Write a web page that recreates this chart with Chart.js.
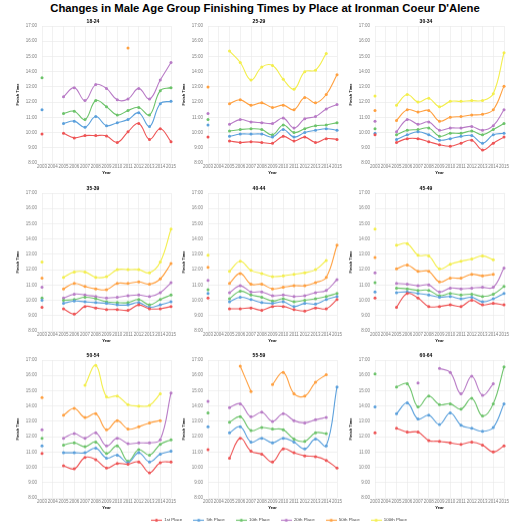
<!DOCTYPE html>
<html>
<head>
<meta charset="utf-8">
<script src="https://cdn.jsdelivr.net/npm/chart.js@4"></script>
<style>
body { margin: 0; width: 530px; height: 530px; position: relative; background: #fff; overflow: hidden;
       font-family: "Liberation Sans", Arial, sans-serif; }
#title { position: absolute; left: 0; top: 2px; width: 530px; text-align: center;
         font-weight: bold; font-size: 11.3px; line-height: 13px; color: #000; }
canvas { position: absolute; }
</style>
</head>
<body>
<div id="title">Changes in Male Age Group Finishing Times by Place at Ironman Coeur D'Alene</div>
<script>
// categories
const years = ['2003', '2004', '2005', '2006', '2007', '2008', '2009', '2010', '2011', '2012', '2013', '2014', '2015'];
const places = ['1st Place', '5th Place', '10th Place', '20th Place', '50th Place', '100th Place'];
const ageGroups = ['18-24', '25-29', '30-34', '35-39', '40-44', '45-49', '50-54', '55-59', '60-64'];
// y ticks, in hours
const hourTicks = [8, 9, 10, 11, 12, 13, 14, 15, 16, 17];

const N = null;
// finishing times in hours, one row per place (1st, 5th, 10th, 20th, 50th, 100th)
const t18_24 = [
    [9.9, N, 9.95, 9.65, 9.8, 9.8, 9.78, 9.35, 10.05, 10.6, 9.55, 10.25, 9.4],
    [11.5, N, 10.6, 10.75, 10.35, 11.05, 10.45, 10.65, 10.85, 11.3, 10.4, 11.9, 12.05],
    [13.6, N, 11.25, 11.4, 10.85, 12.1, 11.7, 11.15, 11.45, 11.65, 11.15, 12.75, 12.95],
    [N, N, 12.35, 12.95, 12.1, 13.15, 12.9, 12.15, 12.2, 12.9, 12.2, 13.45, 14.6],
    [N, N, N, N, N, N, N, N, 15.55, N, N, N, N],
    [N, N, N, N, N, N, N, N, N, N, N, N, N]
];
const t25_29 = [
    [9.7, N, 9.45, 9.35, 9.4, 9.35, 9.3, 9.75, 9.45, 9.7, 9.35, 9.6, 9.55],
    [10.5, N, 9.75, 9.9, 9.9, 9.9, 9.7, 10.2, 9.7, 10.0, 10.15, 10.25, 10.15],
    [10.85, N, 10.1, 10.2, 10.25, 10.2, 9.85, 10.5, 10.0, 10.25, 10.45, 10.5, 10.65],
    [11.25, N, 10.55, 10.85, 10.7, 10.65, 10.6, 10.95, 10.3, 10.9, 11.05, 11.55, 11.85],
    [13.0, N, 11.9, 12.15, 11.8, 11.95, 11.65, 11.8, 11.5, 12.3, 11.95, 12.5, 13.8],
    [N, N, 15.35, 14.6, 13.45, 14.3, 14.4, 13.5, 12.85, 14.0, 14.1, 15.2, N]
];
const t30_34 = [
    [9.85, N, 9.35, 9.6, 9.6, 9.4, 9.2, 9.1, 9.3, 9.5, 8.85, 9.3, 9.7],
    [9.95, N, 9.55, 9.85, 10.05, 9.85, 9.5, 9.6, 9.75, 9.8, 9.3, 9.85, 9.95],
    [10.25, N, 9.85, 10.15, 10.2, 10.3, 9.75, 9.95, 9.95, 10.1, 9.85, 10.2, 10.6],
    [10.75, N, 10.05, 10.85, 10.55, 10.7, 10.15, 10.3, 10.3, 10.4, 10.15, 10.45, 11.5],
    [11.45, N, 10.8, 11.5, 11.35, 11.45, 10.75, 11.0, 11.05, 11.15, 11.2, 11.5, 13.05],
    [12.4, N, 11.8, 12.5, 12.0, 12.25, 11.7, 12.05, 12.05, 12.1, 12.1, 12.55, 15.25]
];
const t35_39 = [
    [9.55, N, 9.45, 9.1, 9.6, 9.5, 9.4, 9.4, 9.35, 9.7, 9.45, 9.45, 9.6],
    [10.0, N, 9.8, 9.95, 9.9, 9.85, 9.8, 9.7, 9.7, 9.85, 9.55, 9.7, 9.9],
    [10.15, N, 10.0, 10.05, 10.2, 10.1, 9.9, 9.85, 9.85, 10.05, 9.7, 10.05, 10.35],
    [10.85, N, 10.15, 10.4, 10.35, 10.25, 10.15, 10.2, 10.3, 10.35, 10.25, 10.5, 11.15],
    [11.45, N, 10.75, 11.1, 10.9, 10.75, 10.7, 11.1, 11.1, 11.2, 11.05, 11.4, 12.4],
    [12.5, N, 11.5, 11.85, 11.85, 11.5, 11.55, 12.0, 12.0, 12.0, 11.8, 12.5, 14.65]
];
const t40_44 = [
    [10.15, N, 9.45, 9.45, 9.5, 9.35, 9.6, 9.6, 9.4, 9.3, 9.5, 9.45, 10.05],
    [10.45, N, 9.9, 10.2, 10.05, 9.85, 9.8, 9.9, 9.6, 9.8, 9.75, 10.05, 10.25],
    [10.7, N, 10.1, 10.6, 10.35, 10.2, 9.95, 10.1, 9.9, 10.0, 10.1, 10.25, 10.45],
    [11.3, N, 10.5, 10.95, 10.55, 10.55, 10.3, 10.35, 10.25, 10.3, 10.5, 10.65, 11.35],
    [12.15, N, 11.1, 11.75, 11.05, 11.05, 10.75, 10.85, 10.95, 10.95, 11.15, 11.5, 13.6],
    [12.95, N, 11.9, 12.55, 11.95, 11.75, 11.55, 11.6, 11.7, 11.8, 12.0, 12.6, N]
];
const t45_49 = [
    [10.15, N, 9.55, 10.45, 10.15, 9.6, 9.6, 9.7, 9.6, 10.0, 9.7, 9.8, 9.7],
    [10.55, N, 10.5, 10.55, 10.45, 10.35, 10.2, 10.25, 10.1, 10.2, 9.9, 10.1, 10.45],
    [11.15, N, 10.8, 10.75, 10.65, 10.65, 10.3, 10.45, 10.35, 10.4, 10.25, 10.4, 10.9],
    [11.8, N, 11.1, 11.05, 10.95, 11.0, 10.55, 10.8, 10.75, 10.8, 10.85, 10.85, 12.1],
    [12.8, N, 12.05, 12.3, 11.9, 11.9, 11.2, 11.45, 11.45, 11.7, 11.6, 11.7, N],
    [14.65, N, 13.6, 13.7, 12.95, 12.9, 12.05, 12.35, 12.55, 12.7, 12.9, 12.65, N]
];
const t50_54 = [
    [10.9, N, 10.1, 9.9, 10.65, 10.5, 9.95, 10.25, 10.2, 10.35, 9.65, 10.3, 10.35],
    [11.4, N, 10.95, 10.95, 10.95, 11.25, 10.6, 10.8, 10.3, 10.95, 10.35, 10.85, 11.05],
    [11.9, N, 11.45, 11.6, 11.35, 11.65, 10.9, 11.4, 10.4, 11.15, 10.8, 11.5, 11.8],
    [12.45, N, 11.9, 12.2, 11.9, 12.25, 11.4, 11.9, 11.55, 11.6, 11.6, 11.8, 14.85],
    [14.55, N, 13.4, 13.85, 13.25, 13.5, 12.45, 13.05, 12.5, 12.65, 12.9, 13.05, N],
    [N, N, N, N, 15.35, 16.65, 14.6, 14.65, 14.1, 14.0, 14.05, 14.8, N]
];
const t55_59 = [
    [11.15, N, 10.6, 11.9, 11.05, 10.85, 10.35, 11.2, 10.95, 10.75, 10.7, 10.45, 9.95],
    [12.65, N, 12.25, 12.65, 11.65, 11.9, 11.6, 11.9, 11.65, 11.2, 11.85, 11.4, 15.25],
    [13.55, N, 12.95, 13.3, 12.4, 12.6, 12.5, 12.45, 11.85, 11.7, 12.25, 12.2, N],
    [14.3, N, 13.9, 14.15, 13.3, 13.6, 13.0, 13.5, 13.05, 12.9, 13.1, 13.25, N],
    [N, N, N, 16.6, 14.95, N, 15.4, 16.2, 14.8, 14.65, 15.55, 16.05, N],
    [N, N, N, N, N, N, N, N, N, N, N, N, N]
];
const t60_64 = [
    [12.25, N, 12.55, 12.3, 12.3, 11.75, 11.7, 11.6, 11.5, 11.65, 11.45, 11.0, 11.4],
    [13.95, N, 13.5, 14.2, 13.15, 13.4, 12.8, 13.55, 12.75, 12.55, 12.35, 12.6, 14.15],
    [16.1, N, 15.25, 15.45, 13.95, 14.65, 14.1, 14.15, 13.8, 14.5, 13.35, 14.15, 16.55],
    [N, N, N, N, 15.5, N, 16.45, 16.2, 14.8, 15.95, 14.7, 15.45, N],
    [N, N, N, N, N, N, N, N, N, N, N, N, N],
    [N, N, N, N, N, N, N, N, N, N, N, N, N]
];
const panelData = [t18_24, t25_29, t30_34, t35_39, t40_44, t45_49, t50_54, t55_59, t60_64];

const colors = ['#ee5455', '#5ba0dc', '#6cc36a', '#b87bc6', '#ffa040', '#f3ee4c'];
const FONT = '"Liberation Sans", Arial, sans-serif';

// panel placement
const plotLefts = [41.7, 208.3, 375];
const plotTops = [25.5, 193, 360];
const yAxisW = 27, titleH = 7, xAxisH = 13, plotW = 129, plotH = 137.5, padRight = 7;

Chart.defaults.font.family = FONT;
Chart.defaults.animation = false;

ageGroups.forEach(function(group, i) {
    const col = i % 3, row = Math.floor(i / 3);
    const cv = document.createElement('canvas');
    const w = yAxisW + plotW + padRight, h = titleH + plotH + xAxisH;
    cv.width = w; cv.height = h;
    cv.style.width = w + 'px'; cv.style.height = h + 'px';
    cv.style.left = (plotLefts[col] - yAxisW) + 'px';
    cv.style.top = (plotTops[row] - titleH) + 'px';
    document.body.appendChild(cv);

    const rows = panelData[i];
    new Chart(cv.getContext('2d'), {
        type: 'line',
        data: {
            labels: years,
            datasets: places.map(function(p, j) {
                return {
                    label: p,
                    data: rows[j],
                    borderColor: colors[j],
                    backgroundColor: colors[j],
                    borderWidth: 1.1,
                    pointRadius: 1.5,
                    pointBorderWidth: 0,
                    tension: 0.4,
                    spanGaps: false
                };
            })
        },
        options: {
            responsive: false,
            layout: { padding: { left: 0, right: padRight, top: 0, bottom: 0 } },
            plugins: {
                legend: { display: false },
                tooltip: { enabled: false },
                title: {
                    display: true,
                    text: group,
                    color: '#000',
                    font: { size: 5, weight: 'bold', lineHeight: 1.2 },
                    padding: { top: 0, bottom: 1 }
                }
            },
            scales: {
                x: {
                    offset: false,
                    grid: { color: '#ebebeb', lineWidth: 0.7, drawTicks: false },
                    border: { display: false },
                    ticks: { autoSkip: false, maxRotation: 0, minRotation: 0, padding: 1,
                             color: '#7f7f7f', font: { size: 4.5 } },
                    title: { display: true, text: 'Year', color: '#000',
                             font: { size: 4, weight: 'bold', lineHeight: 1.2 },
                             padding: { top: 0, bottom: 0.6 } },
                    afterFit: function(s) { s.height = xAxisH; s.paddingLeft = 0; s.paddingRight = 0; }
                },
                y: {
                    min: hourTicks[0],
                    max: hourTicks[hourTicks.length - 1],
                    grid: { color: '#ebebeb', lineWidth: 0.7, drawTicks: false },
                    border: { display: false },
                    ticks: { stepSize: 1, padding: 5, color: '#7f7f7f', font: { size: 4.5 },
                             callback: function(v) { return v + ':00'; } },
                    title: { display: true, text: 'Finish Time', color: '#000',
                             font: { size: 4, weight: 'bold', lineHeight: 1.2 },
                             padding: { top: 0.5, bottom: 0 } },
                    afterFit: function(s) { s.width = yAxisW; s.paddingTop = 0; s.paddingBottom = 0; }
                }
            }
        }
    });
});

// legend: small line-with-dot samples
function legendSample(color) {
    const c = document.createElement('canvas');
    c.width = 11; c.height = 5;
    const g = c.getContext('2d');
    g.strokeStyle = color; g.lineWidth = 1.1;
    g.beginPath(); g.moveTo(0, 2.5); g.lineTo(11, 2.5); g.stroke();
    g.fillStyle = color;
    g.beginPath(); g.arc(5.5, 2.5, 1.5, 0, Math.PI * 2); g.fill();
    return c;
}

const lg = document.createElement('canvas');
lg.width = 530; lg.height = 24;
lg.style.width = '530px'; lg.style.height = '24px';
lg.style.left = '14px'; lg.style.top = '506.5px';
document.body.appendChild(lg);
new Chart(lg.getContext('2d'), {
    type: 'line',
    data: {
        labels: [],
        datasets: places.map(function(p, j) {
            return { label: p, data: [], borderColor: colors[j], backgroundColor: colors[j],
                     pointStyle: legendSample(colors[j]) };
        })
    },
    options: {
        responsive: false,
        scales: { x: { display: false }, y: { display: false } },
        plugins: {
            tooltip: { enabled: false },
            legend: {
                display: true,
                position: 'top',
                maxHeight: 24,
                labels: { usePointStyle: true, pointStyleWidth: 11, padding: 11,
                          color: '#444', font: { size: 4.4 } }
            }
        }
    }
});
</script>
</body>
</html>
